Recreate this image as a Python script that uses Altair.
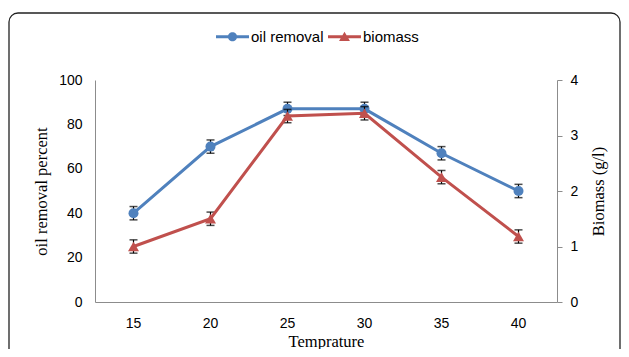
import altair as alt
import pandas as pd

# ---- data ----
temps = ["15", "20", "25", "30", "35", "40"]
oil_removal = [40, 70, 87, 87, 67, 50]
oil_err = [3, 3, 3, 3, 3, 3]
biomass = [1.0, 1.5, 3.35, 3.4, 2.25, 1.18]
bio_err = [0.12, 0.12, 0.12, 0.12, 0.12, 0.12]
series_names = ["oil removal", "biomass"]
oil_ticks = [0, 20, 40, 60, 80, 100]
bio_ticks = [0, 1, 2, 3, 4]

BLUE = "#4F81BD"
RED = "#C0504D"
SANS = "Liberation Sans"
SERIF = "Liberation Serif"
AXIS_GRAY = "#8c8c8c"

df = pd.DataFrame({
    "temp": temps,
    "oil": oil_removal,
    "oil_lo": [v - e for v, e in zip(oil_removal, oil_err)],
    "oil_hi": [v + e for v, e in zip(oil_removal, oil_err)],
    "bio": biomass,
    "bio_lo": [v - e for v, e in zip(biomass, bio_err)],
    "bio_hi": [v + e for v, e in zip(biomass, bio_err)],
})

x_enc = alt.X("temp:O", sort=temps,
              axis=alt.Axis(title="Temprature", labelAngle=0, ticks=False, tickSize=0,
                            labelPadding=14, titlePadding=3, grid=False,
                            domainColor=AXIS_GRAY, labelFont=SANS, labelFontSize=14,
                            labelColor="#000", titleFont=SERIF, titleFontSize=16.5,
                            titleFontWeight="normal", titleColor="#000"))

oil_scale = alt.Scale(domain=[0, 100], nice=False, zero=True)
bio_scale = alt.Scale(domain=[0, 4], nice=False, zero=True)

oil_axis = alt.Axis(title="oil removal percent", values=oil_ticks, grid=False, ticks=False,
                    tickSize=0, labelPadding=13, domainColor=AXIS_GRAY, labelFont=SANS,
                    labelFontSize=14, labelColor="#000", titleFont=SERIF, titleFontSize=16.5,
                    titleFontWeight="normal", titleColor="#000", titlePadding=9)
bio_axis = alt.Axis(title="Biomass (g/l)", orient="right", values=bio_ticks, grid=False,
                    tickSize=5, tickColor=AXIS_GRAY, labelPadding=8, domainColor=AXIS_GRAY,
                    labelFont=SANS, labelFontSize=14, labelColor="#000", titleFont=SERIF,
                    titleFontSize=16.5, titleFontWeight="normal", titleColor="#000",
                    titleAngle=270, titleBaseline="top", titlePadding=13)

base = alt.Chart(df)

# error bars (oil)
oil_rule = base.mark_rule(color="#000", strokeWidth=1.2).encode(
    x=x_enc, y=alt.Y("oil_lo:Q", scale=oil_scale, axis=oil_axis), y2="oil_hi:Q")
oil_cap_lo = base.mark_tick(color="#000", size=8, thickness=1.5).encode(
    x=x_enc, y=alt.Y("oil_lo:Q", scale=oil_scale, axis=oil_axis))
oil_cap_hi = base.mark_tick(color="#000", size=8, thickness=1.5).encode(
    x=x_enc, y=alt.Y("oil_hi:Q", scale=oil_scale, axis=oil_axis))
oil_line = base.mark_line(color=BLUE, strokeWidth=3).encode(
    x=x_enc, y=alt.Y("oil:Q", scale=oil_scale, axis=oil_axis))
oil_pts = base.mark_point(filled=True, opacity=1, color=BLUE, shape="circle", size=100).encode(
    x=x_enc, y=alt.Y("oil:Q", scale=oil_scale, axis=oil_axis))

# legend symbols: line with marker
circle_path = ("M-1,-0.09H1V0.09H-1Z "
               "M0.28,0A0.28,0.28 0 1,1 -0.28,0A0.28,0.28 0 1,1 0.28,0Z")
tri_path = "M-1,-0.09H1V0.09H-1Z M0,-0.3L0.33,0.26L-0.33,0.26Z"

legend = alt.Legend(title=None, orient="none", legendX=121, legendY=-60,
                    direction="horizontal", padding=0, symbolSize=1089,
                    labelOffset=2, columnPadding=4, labelFont=SANS, labelFontSize=15,
                    labelColor="#000", symbolStrokeWidth=0)
legend_df = pd.DataFrame({"series": series_names})
legend_layer = alt.Chart(legend_df).mark_point(filled=True, opacity=1).encode(
    color=alt.Color("series:N", scale=alt.Scale(domain=series_names, range=[BLUE, RED]),
                    legend=legend),
    shape=alt.Shape("series:N", scale=alt.Scale(domain=series_names,
                                                 range=[circle_path, tri_path]),
                    legend=legend),
).transform_filter("false")

frame = alt.Chart(pd.DataFrame({"f": [0]})).mark_rect(
    fillOpacity=0, stroke="#222", strokeWidth=1.3, cornerRadius=9
).encode(x=alt.value(-86), x2=alt.value(525), y=alt.value(-67), y2=alt.value(400))

oil_layer = alt.layer(frame, oil_rule, oil_cap_lo, oil_cap_hi, oil_line, oil_pts, legend_layer)

bio_rule = base.mark_rule(color="#000", strokeWidth=1.2).encode(
    x=x_enc, y=alt.Y("bio_lo:Q", scale=bio_scale, axis=bio_axis), y2="bio_hi:Q")
bio_cap_lo = base.mark_tick(color="#000", size=8, thickness=1.5).encode(
    x=x_enc, y=alt.Y("bio_lo:Q", scale=bio_scale, axis=bio_axis))
bio_cap_hi = base.mark_tick(color="#000", size=8, thickness=1.5).encode(
    x=x_enc, y=alt.Y("bio_hi:Q", scale=bio_scale, axis=bio_axis))
bio_line = base.mark_line(color=RED, strokeWidth=3).encode(
    x=x_enc, y=alt.Y("bio:Q", scale=bio_scale, axis=bio_axis))
bio_pts = base.mark_point(filled=True, opacity=1, color=RED, shape="triangle-up", size=121).encode(
    x=x_enc, y=alt.Y("bio:Q", scale=bio_scale, axis=bio_axis))

bio_layer = alt.layer(bio_rule, bio_cap_lo, bio_cap_hi, bio_line, bio_pts)

chart = alt.layer(oil_layer, bio_layer).resolve_scale(y="independent").properties(
    width=462, height=222,
    autosize=alt.AutoSizeParams(type="none"),
    padding={"left": 87, "top": 72, "right": 64, "bottom": 47},
    background="white",
).configure_view(strokeWidth=0)

chart.save("out.html", embed_options={"renderer": "svg", "actions": False})
